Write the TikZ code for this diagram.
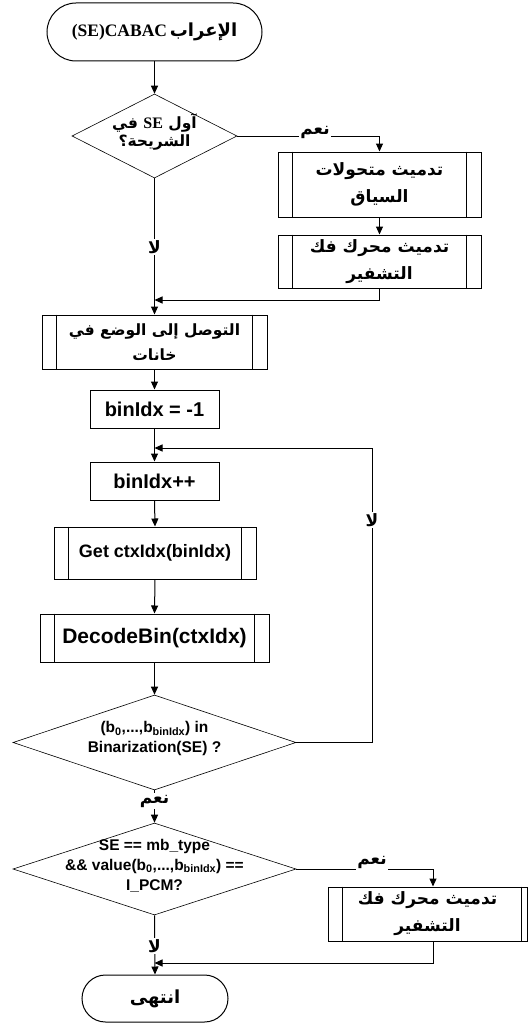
\documentclass[tikz,border=0pt]{standalone}
\usepackage{fontspec}
\setmainfont{Liberation Sans}
\newfontfamily\arf[Script=Arabic]{DejaVu Sans}
\newfontfamily\tnr{Liberation Serif}
\TeXXeTstate=1
\usetikzlibrary{shapes.geometric,arrows.meta}
\newcommand\rtl[1]{\beginR#1\endR}
\newcommand\zb[1]{\smash{\makebox[0pt]{\parbox[c]{300pt}{\centering #1}}}}
\tikzset{
  box/.style={draw, line width=1pt, inner sep=0pt, align=center},
  term/.style={draw, line width=1pt, inner sep=0pt, align=center},
  dec/.style={diamond, draw, line width=0.6pt, inner sep=0pt},
  arr/.style={line width=1pt, -{Triangle[length=8pt,width=7pt]}},
  ln/.style={line width=1pt},
  lab/.style={fill=white, inner sep=1.5pt, font=\arf\bfseries\fontsize{17}{20}\selectfont},
  artext/.style={font=\arf\bfseries\fontsize{17}{27}\selectfont},
  entext/.style={font=\bfseries\fontsize{20}{24}\selectfont},
  dectext/.style={font=\bfseries\fontsize{15.5}{20}\selectfont},
}
\begin{document}
\begin{tikzpicture}[x=1pt,y=-1pt]
\useasboundingbox (0,0) rectangle (528,1025);
% nodes
\node[term, rounded corners=29pt, minimum width=215pt, minimum height=58pt] (start) at (154.5,32)
  {{\tnr\bfseries\fontsize{17.5}{20}\selectfont (SE)CABAC} {\arf\bfseries\fontsize{18}{22}\selectfont\rtl{الإعراب}}};
\node[dec, font=\arf\bfseries\fontsize{15.5}{18}\selectfont, minimum width=165pt, minimum height=84pt] (d1) at (154.5,136)
  {\zb{\rtl{آول \beginL{\tnr\fontsize{16}{18}\selectfont SE}\endL{} في}\\\rtl{الشريحة؟}}};
\node[box, artext, minimum width=203pt, minimum height=65pt] (b1) at (379.5,184.5)
  {\rtl{تدميث متحولات}\\\rtl{السياق}};
\node[box, artext, minimum width=203pt, minimum height=53pt] (b2) at (379.5,261.5)
  {\rtl{تدميث محرك فك}\\\rtl{التشفير}};
\node[box, font=\arf\bfseries\fontsize{15.5}{25}\selectfont, minimum width=225pt, minimum height=54pt] (b3) at (154.5,342)
  {\rtl{التوصل إلى الوضع في}\\\rtl{خانات}};
\node[box, entext, minimum width=129pt, minimum height=38pt] (b4) at (154.5,409) {binIdx = -1};
\node[box, entext, minimum width=129pt, minimum height=38pt] (b5) at (154.5,481) {binIdx++};
\node[box, font=\bfseries\fontsize{18}{22}\selectfont, minimum width=202pt, minimum height=52pt] (b6) at (155,553) {Get ctxIdx(binIdx)};
\node[box, font=\bfseries\fontsize{21}{24}\selectfont, minimum width=229pt, minimum height=48pt] (b7) at (154.5,638) {DecodeBin(ctxIdx)};
\node[dec, dectext, minimum width=283pt, minimum height=95pt] (d2) at (154.5,742.5)
  {\zb{(b\textsubscript{0},...,b\textsubscript{binIdx}) in\\Binarization(SE) ?}};
\node[dec, dectext, minimum width=283pt, minimum height=92pt] (d3) at (154.5,869)
  {\zb{SE == mb\_type\\\&\& value(b\textsubscript{0},...,b\textsubscript{binIdx}) ==\\I\_PCM?}};
\node[box, artext, minimum width=199pt, minimum height=54pt] (b8) at (427.5,914)
  {\rtl{تدميث محرك فك}\\\rtl{التشفير}};
\node[term, rounded corners=23.5pt, minimum width=146pt, minimum height=47pt] (end) at (155,998.5)
  {\arf\bfseries\fontsize{18}{20}\selectfont\rtl{انتهى}};
% inner lines of subroutine boxes
\foreach \n in {b1,b2,b3,b6,b7}{
  \draw[ln] ([xshift=15pt]\n.north west) -- ([xshift=15pt]\n.south west);
  \draw[ln] ([xshift=-15pt]\n.north east) -- ([xshift=-15pt]\n.south east);
}
\draw[ln] ([xshift=15pt]b8.north west) -- ([xshift=15pt]b8.south west);
\draw[ln] ([xshift=-6pt]b8.north east) -- ([xshift=-6pt]b8.south east);
% connectors
\coordinate (m1) at (154.5,300);
\coordinate (m2) at (154.5,448);
\coordinate (lp) at (372,448);
\coordinate (m3) at (154.5,963);
\draw[arr] (start.south) -- (d1.north);
\draw[arr] (d1.east) -| (b1.north);
\draw[arr] (b1.south) -- (b2.north);
\draw[arr] (b2.south) |- (m1);
\draw[arr] (d1.south) -- (b3.north);
\draw[arr] (b3.south) -- (b4.north);
\draw[arr] (b4.south) -- (b5.north);
\draw[arr] (d2.east) -| (lp) -- (m2);
\draw[arr] (b5.south) -- (b6.north);
\draw[arr] (b6.south) -- (b7.north);
\draw[arr] (b7.south) -- (d2.north);
\draw[arr] (d2.south) -- (d3.north);
\draw[arr] (d3.east) -| ([xshift=5.5pt]b8.north);
\draw[arr] ([xshift=5.5pt]b8.south) |- (m3);
\draw[arr] (d3.south) -- (end.north);
% labels
\node[lab] (y1) at (315,132) {\rtl{نعم}};
\node[lab] (n1) at (154.5,247) {\rtl{لا}};
\node[lab] (n2) at (372,520) {\rtl{لا}};
\node[lab] (y2) at (154.5,801) {\rtl{نعم}};
\node[lab] (y3) at (372,862) {\rtl{نعم}};
\node[lab] (n3) at (154.5,946) {\rtl{لا}};
\end{tikzpicture}
\end{document}
